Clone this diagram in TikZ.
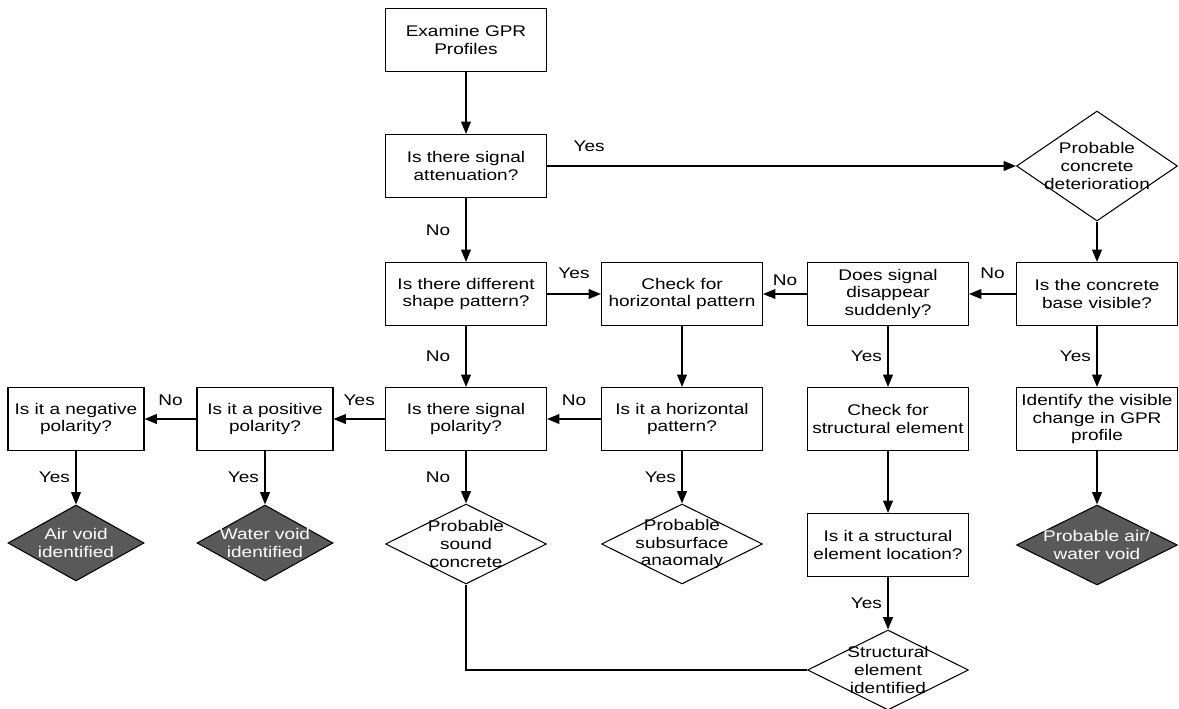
\documentclass[tikz,border=0pt]{standalone}
\usepackage{fontspec}
\usepackage{xcolor}
\setmainfont[FakeStretch=1.23]{Liberation Sans}
\usetikzlibrary{arrows.meta,shapes.geometric}

\definecolor{voidgray}{RGB}{89,89,89}
\tikzset{
  box/.style={draw,line width=0.6pt,minimum width=3.22cm,minimum height=1.26cm,align=center,inner sep=1pt},
  sbox/.style={box,minimum width=2.72cm},
  wdia/.style={draw,diamond,line width=0.6pt,minimum width=3.22cm,minimum height=1.6cm,inner sep=0pt},
  ddia/.style={wdia,fill=voidgray,minimum width=2.72cm,minimum height=1.52cm},
  arr/.style={line width=1pt,-{Triangle[length=7pt,width=5.5pt]}},
  lbl/.style={inner sep=0pt},
  dtxt/.style={lbl,align=center},
}

\begin{document}
\begin{tikzpicture}[x=0.02cm,y=-0.02cm,font=\fontsize{8.8}{10}\selectfont]
        \useasboundingbox(0,0) rectangle (1179,709);
        \node[box](exam) at (466,40) {Examine GPR\\Profiles};
        \node[box](att) at (466,166) {Is there signal\\attenuation?};
        \node[wdia,minimum height=2.2cm,label={[dtxt]center:Probable\\concrete\\deterioration}](det) at (1097,166) {};
        \node[box](shp) at (466,294) {Is there different\\shape pattern?};
        \node[box](chk) at (682,294) {Check for\\horizontal pattern};
        \node[box](dis) at (888,294) {Does signal\\disappear\\suddenly?};
        \node[box](base) at (1097,294) {Is the concrete\\base visible?};
        \node[sbox](neg) at (76,419) {Is it a negative\\polarity?};
        \node[sbox](pos) at (265,419) {Is it a positive\\polarity?};
        \node[box](pol) at (466,419) {Is there signal\\polarity?};
        \node[box](hor) at (682,419) {Is it a horizontal\\pattern?};
        \node[box](cse) at (888,419) {Check for\\structural element};
        \node[box](idv) at (1097,419) {Identify the visible\\change in GPR\\profile};
        \node[ddia,label={[dtxt,text=white]center:Air void\\identified}](air) at (76,543) {};
        \node[ddia,label={[dtxt,text=white]center:Water void\\identified}](wat) at (265,543) {};
        \node[wdia,label={[dtxt]center:Probable\\sound\\concrete}](snd) at (466,544) {};
        \node[wdia,label={[dtxt]center:Probable\\subsurface\\anaomaly}](sub) at (682,544) {};
        \node[box](loc) at (888,545) {Is it a structural\\element location?};
        \node[ddia,minimum width=3.22cm,minimum height=1.6cm,label={[dtxt,text=white]center:Probable air/\\water void}](awv) at (1097,545) {};
        \node[wdia,label={[dtxt]center:Structural\\element\\identified}](sei) at (888,670) {};
        \draw[arr](exam)--(att);
        \draw[arr](att)--node[lbl,above=7.5pt,pos=0.09]{Yes}(det);
        \draw[arr](att)--node[lbl,left=8.5pt,midway]{No}(shp);
        \draw[arr](det)--(base);
        \draw[arr](base)--node[lbl,above=8.5pt,midway]{No}(dis);
        \draw[arr](dis)--node[lbl,above=4.5pt,midway]{No}(chk);
        \draw[arr](shp)--node[lbl,above=8pt,midway]{Yes}(chk);
        \draw[arr](shp)--node[lbl,left=8.5pt,midway]{No}(pol);
        \draw[arr](chk)--(hor);
        \draw[arr](hor)--node[lbl,above=7pt,midway]{No}(pol);
        \draw[arr](pol)--node[lbl,above=7pt,midway]{Yes}(pos);
        \draw[arr](pos)--node[lbl,above=7pt,midway]{No}(neg);
        \draw[arr](neg)--node[lbl,left=3pt,midway]{Yes}(air);
        \draw[arr](pos)--node[lbl,left=3pt,midway]{Yes}(wat);
        \draw[arr](pol)--node[lbl,left=8.5pt,midway]{No}(snd);
        \draw[arr](hor)--node[lbl,left=3pt,midway]{Yes}(sub);
        \draw[arr](dis)--node[lbl,left=3pt,midway]{Yes}(cse);
        \draw[arr](cse)--(loc);
        \draw[arr](loc)--node[lbl,left=3pt,midway]{Yes}(sei);
        \draw[arr](base)--node[lbl,left=3pt,midway]{Yes}(idv);
        \draw[arr](idv)--(awv);
        \draw[line width=1pt](snd.south)|-(sei.west);
\end{tikzpicture}
\end{document}
